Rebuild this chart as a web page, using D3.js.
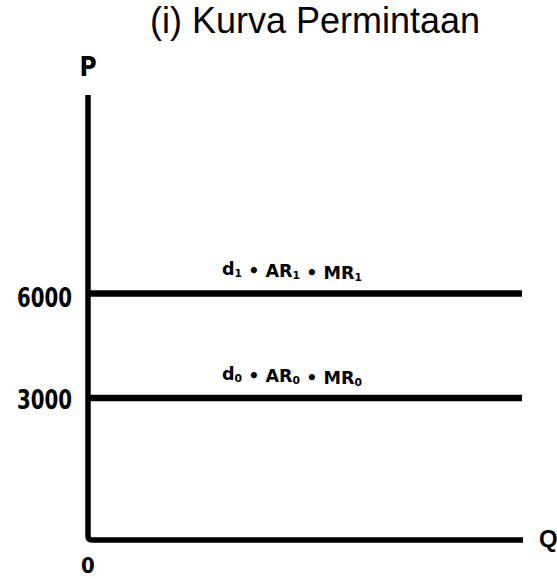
<!DOCTYPE html>
<html>
<head>
<meta charset="utf-8">
<script src="https://cdn.jsdelivr.net/npm/d3@7"></script>
<style>
  html, body { margin: 0; padding: 0; background: #fff; }
  svg { display: block; }
</style>
</head>
<body>
<script>
// ---- data ----
const priceLevels = [3000, 6000];
const priceLabels = ["3000", "6000"];
const curveNames = [
  { base: ["d", "AR", "MR"], sub: "0" },
  { base: ["d", "AR", "MR"], sub: "1" }
];
const titleText = "(i) Kurva Permintaan";
const axisLabels = { y: "P", x: "Q", origin: "0" };

// ---- layout ----
const W = 557, H = 579;
const originX = 88, originY = 540, topY = 95, rightX = 522;

const svg = d3.select("body").append("svg")
  .attr("width", W).attr("height", H);

const y = d3.scaleLinear().domain([3000, 6000]).range([398, 293.5]);
const x = d3.scaleLinear().domain([0, 1]).range([originX, rightX]);

// title
svg.append("text")
  .attr("x", 315).attr("y", 33)
  .attr("text-anchor", "middle")
  .attr("font-family", "Liberation Sans, Arial, sans-serif")
  .attr("font-size", 36)
  .attr("fill", "#000")
  .text(titleText);

// horizontal demand lines
svg.selectAll("line.demand").data(priceLevels).enter().append("line")
  .attr("class", "demand")
  .attr("x1", x(0)).attr("x2", x(1))
  .attr("y1", d => y(d)).attr("y2", d => y(d))
  .attr("stroke", "#000").attr("stroke-width", 6.5)
  .attr("stroke-linecap", "butt");

// axes (L shape with rounded corner)
svg.append("path")
  .attr("d", `M${originX},${topY} L${originX},${originY - 4} Q${originX},${originY} ${originX + 4},${originY} L${x(1) + 1},${originY}`)
  .attr("fill", "none").attr("stroke", "#000").attr("stroke-width", 5.5)
  .attr("stroke-linecap", "butt");

const labelFont = "Liberation Sans Narrow, DejaVu Sans Condensed, Liberation Sans, sans-serif";

// tick labels
svg.selectAll("text.tick").data(priceLevels).enter().append("text")
  .attr("class", "tick")
  .attr("x", 72).attr("y", (d, i) => y(d) + (i === 0 ? 10.5 : 13.5))
  .attr("text-anchor", "end")
  .attr("font-family", labelFont)
  .attr("font-weight", "bold")
  .attr("font-size", 26)
  .attr("textLength", 55).attr("lengthAdjust", "spacingAndGlyphs")
  .text((d, i) => priceLabels[i]);

// axis labels
svg.append("text").attr("x", 88).attr("y", 76).attr("text-anchor", "middle")
  .attr("font-family", labelFont).attr("font-weight", "bold").attr("font-size", 26)
  .text(axisLabels.y);
svg.append("text").attr("x", 539).attr("y", 547)
  .attr("font-family", "Liberation Sans, Arial, sans-serif").attr("font-weight", "bold").attr("font-size", 24)
  .text(axisLabels.x);
svg.append("text").attr("x", 88).attr("y", 573).attr("text-anchor", "middle")
  .attr("font-family", labelFont).attr("font-weight", "bold").attr("font-size", 22)
  .text(axisLabels.origin);

// curve labels
const labelPos = [ { x: 222, y: 380 }, { x: 222, y: 275 } ];
curveNames.forEach((c, i) => {
  const t = svg.append("text")
    .attr("x", labelPos[i].x).attr("y", labelPos[i].y)
    .attr("font-family", labelFont)
    .attr("font-weight", "bold")
    .attr("font-size", 18)
    .attr("textLength", 140).attr("lengthAdjust", "spacingAndGlyphs");
  c.base.forEach((b, j) => {
    if (j > 0) t.append("tspan").text(" \u2022 ");
    t.append("tspan").text(b);
    t.append("tspan").attr("font-size", 11).attr("dy", 2).text(c.sub);
    t.append("tspan").attr("dy", -2).text("");
  });
});
</script>
</body>
</html>
